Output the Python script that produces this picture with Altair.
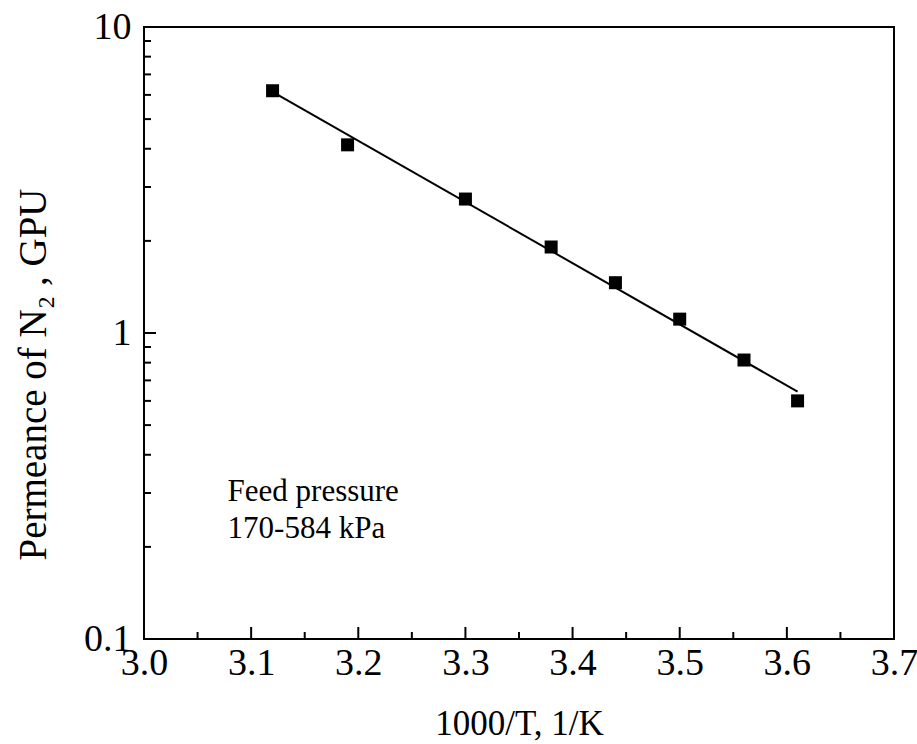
import altair as alt
import pandas as pd

# data
inv_T = [3.12, 3.19, 3.30, 3.38, 3.44, 3.50, 3.56, 3.61]
permeance = [6.19, 4.12, 2.74, 1.91, 1.46, 1.11, 0.816, 0.60]
fit_x = [3.12, 3.61]
fit_y = [6.14, 0.643]

x_major = [3.0, 3.1, 3.2, 3.3, 3.4, 3.5, 3.6, 3.7]
x_minor = [3.05, 3.15, 3.25, 3.35, 3.45, 3.55, 3.65]
y_major = [0.1, 1, 10]
y_minor = [0.2, 0.3, 0.4, 0.5, 0.6, 0.7, 0.8, 0.9, 2, 3, 4, 5, 6, 7, 8, 9]

note_x = [3.078]
note_y = [0.2825]
note_text = ["Feed pressure\n170-584 kPa"]

FONT = "Liberation Serif"
LFS = 38
TFS = 35
YTFS = 39
NFS = 31
W, H = 750, 612

pts = pd.DataFrame({"x": inv_T, "y": permeance})
fit = pd.DataFrame({"x": fit_x, "y": fit_y})

xs = alt.Scale(domain=[3.0, 3.7], nice=False, zero=False)
ys = alt.Scale(type="log", domain=[0.1, 10], nice=False)

xaxis = alt.Axis(values=x_major, format=".1f", labelPadding=5,
                 title="1000/T, 1/K", titleY=84, titleBaseline="middle")
yaxis = alt.Axis(values=y_major, format="~g", labelPadding=13,
                 title="Permeance of N\u2082 , GPU", titleX=-111, titleY=347,
                 titleAngle=-90, titleBaseline="middle", titleAlign="center")

line = alt.Chart(fit).mark_line(color="black", strokeWidth=2).encode(
    x=alt.X("x:Q", scale=xs, axis=xaxis),
    y=alt.Y("y:Q", scale=ys, axis=yaxis),
)
points = alt.Chart(pts).mark_square(color="black", size=169, opacity=1).encode(
    x=alt.X("x:Q", scale=xs, axis=xaxis), y=alt.Y("y:Q", scale=ys, axis=yaxis)
)

xM = alt.Chart(pd.DataFrame({"x": x_major})).mark_rule(color="black", strokeWidth=2).encode(
    x=alt.X("x:Q", scale=xs, axis=xaxis), y=alt.value(H), y2=alt.value(H - 12))
xm = alt.Chart(pd.DataFrame({"x": x_minor})).mark_rule(color="black", strokeWidth=2).encode(
    x=alt.X("x:Q", scale=xs, axis=xaxis), y=alt.value(H), y2=alt.value(H - 7))
yM = alt.Chart(pd.DataFrame({"y": y_major})).mark_rule(color="black", strokeWidth=2).encode(
    y=alt.Y("y:Q", scale=ys, axis=yaxis), x=alt.value(0), x2=alt.value(12))
ym = alt.Chart(pd.DataFrame({"y": y_minor})).mark_rule(color="black", strokeWidth=2).encode(
    y=alt.Y("y:Q", scale=ys, axis=yaxis), x=alt.value(0), x2=alt.value(7))

note = alt.Chart(pd.DataFrame({"x": note_x, "y": note_y, "t": note_text})).mark_text(
    font=FONT, fontSize=NFS, align="left", baseline="alphabetic", lineBreak="\n",
    lineHeight=37, color="black"
).encode(x=alt.X("x:Q", scale=xs, axis=xaxis), y=alt.Y("y:Q", scale=ys, axis=yaxis), text="t:N")

chart = alt.layer(line, points, xM, xm, yM, ym, note).properties(
    width=W, height=H,
    autosize=alt.AutoSizeParams(type="none"),
    padding={"left": 144, "top": 27, "right": 23, "bottom": 105},
    background="white",
).configure_view(stroke="black", strokeWidth=2).configure_axis(
    ticks=False, domain=False, grid=False, labelFlush=False,
    labelFont=FONT, labelFontSize=LFS, labelColor="black",
    titleFont=FONT, titleFontSize=TFS, titleFontWeight="normal", titleColor="black",
).configure_axisY(titleFontSize=YTFS)

chart.save("out.html", embed_options={"renderer": "svg", "actions": False})
